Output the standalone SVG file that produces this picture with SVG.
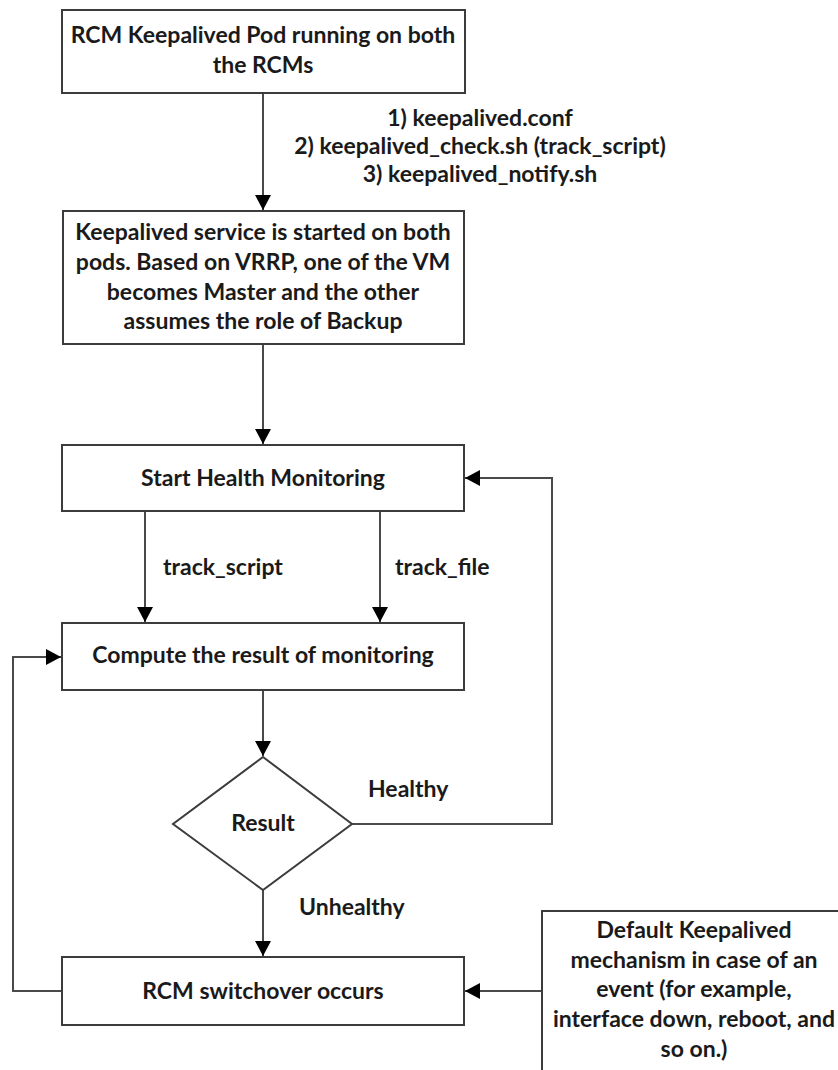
<svg xmlns="http://www.w3.org/2000/svg" width="838" height="1070" viewBox="0 0 838 1070">
<style>
  .box { fill: #ffffff; stroke: #3c3c3c; stroke-width: 2; }
  .t { font-family: Lato, "Liberation Sans", sans-serif; font-weight: bold; font-size: 23px; fill: #1a1a1a; text-anchor: middle; }
  .lbl { font-family: Lato, "Liberation Sans", sans-serif; font-weight: bold; font-size: 23px; fill: #1a1a1a; }
  .c { fill: none; stroke: #4a4a4a; stroke-width: 2; }
</style>
<defs>
  <marker id="arr" markerUnits="userSpaceOnUse" markerWidth="15" markerHeight="16" refX="15" refY="8" orient="auto">
    <path d="M0,0 L15,8 L0,16 Z" fill="#000000"/>
  </marker>
</defs>
<rect width="838" height="1070" fill="#ffffff"/>
<g id="connectors">
  <line class="c" x1="263" y1="93" x2="263" y2="210" marker-end="url(#arr)"/>
  <line class="c" x1="263" y1="344" x2="263" y2="444" marker-end="url(#arr)"/>
  <line class="c" x1="145" y1="511" x2="145" y2="622" marker-end="url(#arr)"/>
  <line class="c" x1="380" y1="511" x2="380" y2="622" marker-end="url(#arr)"/>
  <line class="c" x1="263" y1="690" x2="263" y2="756" marker-end="url(#arr)"/>
  <polyline class="c" points="352,824 552,824 552,478 465,478" marker-end="url(#arr)"/>
  <line class="c" x1="263" y1="890" x2="263" y2="956" marker-end="url(#arr)"/>
  <polyline class="c" points="62,991 13,991 13,657 61,657" marker-end="url(#arr)"/>
  <line class="c" x1="542" y1="991" x2="465" y2="991" marker-end="url(#arr)"/>
  <text class="t" x="480" y="126">1) keepalived.conf</text>
  <text class="t" x="480" y="154">2) keepalived_check.sh (track_script)</text>
  <text class="t" x="480" y="182">3) keepalived_notify.sh</text>
  <text class="lbl" x="163" y="575">track_script</text>
  <text class="lbl" x="395" y="575">track_file</text>
  <text class="lbl" x="368" y="797">Healthy</text>
  <text class="lbl" x="299" y="915">Unhealthy</text>
</g>
<g id="node-pod">
  <rect class="box" x="62" y="10" width="403" height="83"/>
  <text class="t" x="263" y="43">RCM Keepalived Pod running on both</text>
  <text class="t" x="263" y="73">the RCMs</text>
</g>
<g id="node-service">
  <rect class="box" x="63" y="211" width="401" height="133"/>
  <text class="t" x="263" y="240">Keepalived service is started on both</text>
  <text class="t" x="263" y="270">pods. Based on VRRP, one of the VM</text>
  <text class="t" x="263" y="300">becomes Master and the other</text>
  <text class="t" x="263" y="329">assumes the role of Backup</text>
</g>
<g id="node-start">
  <rect class="box" x="62" y="445" width="402" height="66"/>
  <text class="t" x="263" y="486">Start Health Monitoring</text>
</g>
<g id="node-compute">
  <rect class="box" x="62" y="623" width="402" height="67"/>
  <text class="t" x="263" y="663">Compute the result of monitoring</text>
</g>
<g id="node-result">
  <polygon class="box" points="263,757 352,824 263,890 173,824"/>
  <text class="t" x="263" y="831">Result</text>
</g>
<g id="node-switchover">
  <rect class="box" x="62" y="957" width="402" height="68"/>
  <text class="t" x="263" y="999">RCM switchover occurs</text>
</g>
<g id="node-default">
  <rect class="box" x="542" y="911" width="310" height="175"/>
  <text class="t" x="694" y="938">Default Keepalived</text>
  <text class="t" x="694" y="968">mechanism in case of an</text>
  <text class="t" x="694" y="997">event (for example,</text>
  <text class="t" x="694" y="1027">interface down, reboot, and</text>
  <text class="t" x="694" y="1057">so on.)</text>
</g>
</svg>
